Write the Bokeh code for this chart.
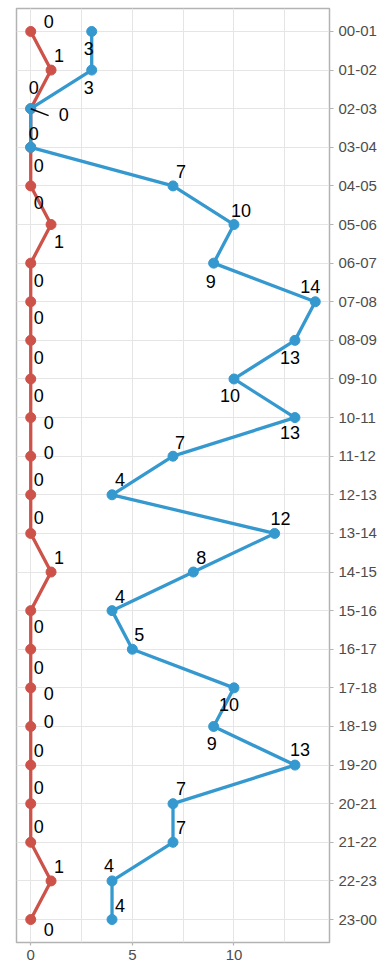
from bokeh.plotting import figure
from bokeh.models import ColumnDataSource, FactorRange, Range1d, SingleIntervalTicker
from bokeh.transform import dodge
from bokeh.core.properties import value
from bokeh.embed import file_html
from bokeh.resources import INLINE

# ---- data ----
hours = ["00-01", "01-02", "02-03", "03-04", "04-05", "05-06", "06-07", "07-08",
         "08-09", "09-10", "10-11", "11-12", "12-13", "13-14", "14-15", "15-16",
         "16-17", "17-18", "18-19", "19-20", "20-21", "21-22", "22-23", "23-00"]
red_values = [0, 1, 0, 0, 0, 1, 0, 0, 0, 0, 0, 0, 0, 0, 1, 0, 0, 0, 0, 0, 0, 0, 1, 0]
blue_values = [3, 3, 0, 0, 7, 10, 9, 14, 13, 10, 13, 7, 4, 12, 8, 4, 5, 10, 9, 13, 7, 7, 4, 4]

# ---- label placement (pixel offsets, style only) ----
red_dx = [18, 8, 3, 8, 8, 8, 8, 8, 8, 8, 18, 18, 8, 8, 8, 8, 8, 18, 18, 8, 8, 8, 8, 18]
red_dy = [-10, -15, -21, 18, 17, 17, 17, 16, 17, 17, 5, -4, -15, -16, -15, 16, 18, 6, -5, -15, -16, -16, -14, 10]
blue_dx = [-3, -3, 33, 3, 8, 7, -3, -5, -5, -4, -5, 7, 8, 6, 8, 8, 7, -5, -2, 5, 8, 8, -3, 8]
blue_dy = [17, 17, 6, -14, -14, -14, 18, -15, 17, 17, 15, -14, -15, -15, -15, -14, -15, 17, 17, -16, -15, -15, -15, -14]

RED = "#cd5249"
BLUE = "#3599cf"
GRID = "#e5e5e5"
FRAME = "#b3b3b3"
FONT = "Liberation Sans"

red_src = ColumnDataSource(dict(y=hours, x=red_values, label=[str(v) for v in red_values],
                                dx=red_dx, dy=red_dy))
blue_src = ColumnDataSource(dict(y=hours, x=blue_values, label=[str(v) for v in blue_values],
                                 dx=blue_dx, dy=blue_dy))

y_range = FactorRange(factors=list(reversed(hours)), range_padding=0.095,
                      range_padding_units="absolute")

p = figure(frame_width=313, frame_height=934, x_range=Range1d(-0.7, 14.7), y_range=y_range,
           y_axis_location="right", output_backend="svg", toolbar_location=None,
           min_border_left=16, min_border_top=8, min_border_right=0, min_border_bottom=0)

p.background_fill_color = "white"
p.border_fill_color = "white"
p.outline_line_color = FRAME
p.outline_line_width = 1.5

# grids
p.xaxis.ticker = SingleIntervalTicker(interval=5, num_minor_ticks=2)
p.xgrid.grid_line_color = GRID
p.xgrid.minor_grid_line_color = GRID
p.xgrid.minor_grid_line_width = 1
p.ygrid.grid_line_color = GRID

# axes
for ax in (p.xaxis[0], p.yaxis[0]):
    ax.axis_line_color = None
    ax.major_tick_line_color = FRAME
    ax.major_tick_line_width = 1.2
    ax.major_tick_in = 0
    ax.minor_tick_line_color = None
    ax.major_label_text_font = FONT
    ax.major_label_text_font_size = "15px"
    ax.major_label_text_color = "#4d4d4d"
p.xaxis.major_tick_out = 3
p.xaxis.major_label_standoff = 3
p.yaxis.major_tick_out = 4
p.yaxis.major_label_standoff = 5

# series
p.line("x", "y", source=red_src, line_color=RED, line_width=3.3)
p.scatter("x", "y", source=red_src, size=10, fill_color=RED, line_color=RED)
p.line("x", "y", source=blue_src, line_color=BLUE, line_width=3.3)
p.scatter("x", "y", source=blue_src, size=10, fill_color=BLUE, line_color=BLUE)

# leader line for the displaced blue label at 02-03
lead_src = ColumnDataSource(dict(x=[blue_values[2]], y=[hours[2]]))
p.segment(x0="x", y0="y", x1=dodge("x", 0.88), y1=dodge("y", -0.18, range=p.y_range),
          source=lead_src, line_color="black", line_width=1.5)

# labels
for src in (red_src, blue_src):
    p.text("x", "y", text="label", source=src, x_offset="dx", y_offset="dy",
           text_align="center", text_baseline="middle", text_color="black",
           text_font=value(FONT), text_font_size="18px")

open("out.html", "w").write(file_html(p, INLINE))
